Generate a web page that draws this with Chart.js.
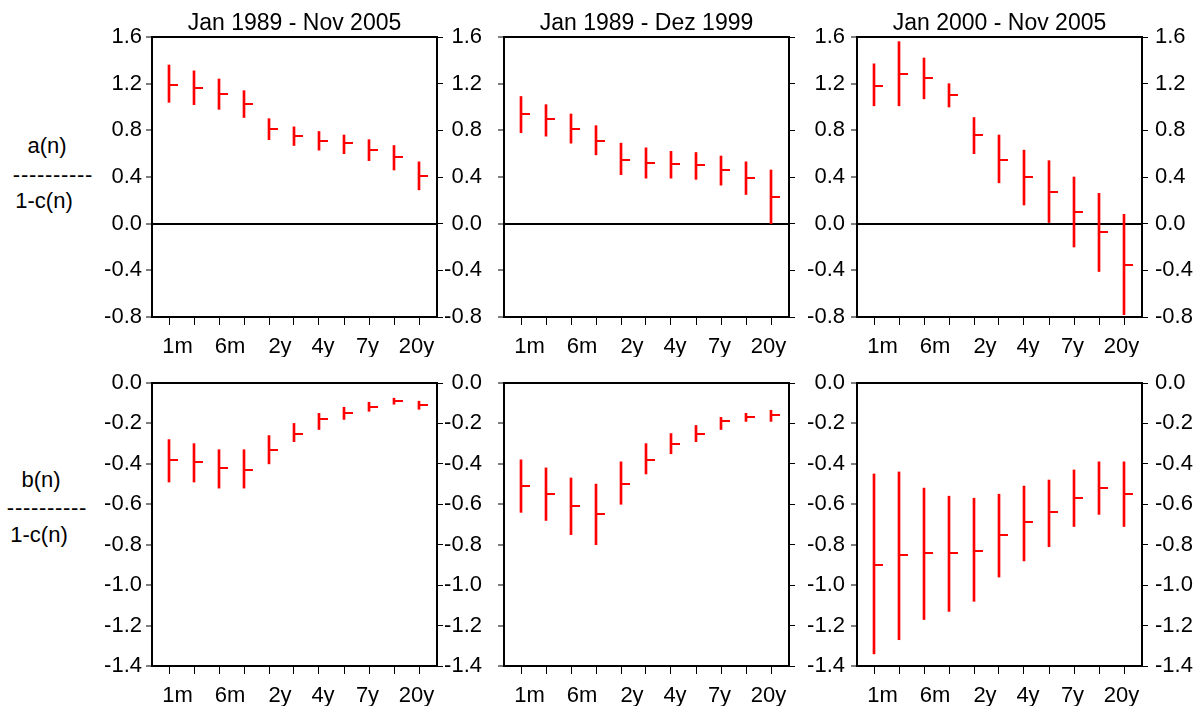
<!DOCTYPE html>
<html lang="en">
<head>
    <meta charset="UTF-8" />
    <title>a(n), b(n) over 1-c(n)</title>
    <script src="https://cdn.jsdelivr.net/npm/chart.js"></script>
    <style>
        body { margin: 0; background: #fff; }
        #page { position: relative; width: 1203px; height: 706px; overflow: hidden;
                font-family: "Liberation Sans", Arial, sans-serif; color: #000; }
        #page canvas { position: absolute; }
        .lbl { position: absolute; font-size: 22px; line-height: 22px; text-align: center; white-space: nowrap; }
        .dash { letter-spacing: 0.7px; }
    </style>
</head>
<body>
    <div id="page">
        <div class="lbl" style="left:17px;top:135px;width:60px">a(n)</div>
        <div class="lbl dash" style="left:3px;top:164px;width:100px">----------</div>
        <div class="lbl" style="left:9px;top:190px;width:70px">1-c(n)</div>

        <div class="lbl" style="left:11px;top:469px;width:60px">b(n)</div>
        <div class="lbl dash" style="left:-3px;top:497px;width:100px">----------</div>
        <div class="lbl" style="left:4px;top:524px;width:70px">1-c(n)</div>
    </div>

    <script>
        const maturities = ['1m', '3m', '6m', '1y', '2y', '3y', '4y', '5y', '7y', '10y', '20y'];
        const titles = ['Jan 1989 - Nov 2005', 'Jan 1989 - Dez 1999', 'Jan 2000 - Nov 2005'];

        // a(n) / (1-c(n)) : estimate and band
        const aFullMid  = [1.19, 1.16, 1.11, 1.03, 0.81, 0.75, 0.71, 0.69, 0.63, 0.57, 0.41];
        const aFullLow  = [1.04, 1.02, 0.98, 0.91, 0.72, 0.67, 0.63, 0.60, 0.54, 0.46, 0.29];
        const aFullHigh = [1.36, 1.31, 1.24, 1.14, 0.90, 0.83, 0.79, 0.76, 0.72, 0.67, 0.53];

        const aSub1Mid  = [0.94, 0.90, 0.81, 0.71, 0.55, 0.52, 0.51, 0.50, 0.46, 0.39, 0.23];
        const aSub1Low  = [0.78, 0.75, 0.69, 0.59, 0.42, 0.39, 0.39, 0.38, 0.33, 0.25, 0.00];
        const aSub1High = [1.09, 1.02, 0.94, 0.84, 0.69, 0.65, 0.62, 0.61, 0.58, 0.53, 0.46];

        const aSub2Mid  = [1.18, 1.28, 1.25, 1.10, 0.76, 0.55, 0.40, 0.27, 0.10, -0.07, -0.35];
        const aSub2Low  = [1.01, 1.01, 1.07, 1.00, 0.60, 0.35, 0.16, 0.01, -0.20, -0.41, -0.78];
        const aSub2High = [1.37, 1.56, 1.42, 1.20, 0.91, 0.76, 0.63, 0.54, 0.40, 0.26, 0.08];

        // b(n) / (1-c(n))
        const bFullMid  = [-0.38, -0.39, -0.42, -0.43, -0.33, -0.25, -0.18, -0.15, -0.12, -0.09, -0.11];
        const bFullLow  = [-0.49, -0.49, -0.52, -0.52, -0.40, -0.29, -0.23, -0.18, -0.14, -0.105, -0.13];
        const bFullHigh = [-0.28, -0.30, -0.33, -0.33, -0.26, -0.20, -0.15, -0.12, -0.095, -0.075, -0.09];

        const bSub1Mid  = [-0.51, -0.55, -0.61, -0.65, -0.50, -0.38, -0.30, -0.25, -0.19, -0.17, -0.16];
        const bSub1Low  = [-0.64, -0.68, -0.75, -0.80, -0.60, -0.45, -0.35, -0.29, -0.23, -0.19, -0.19];
        const bSub1High = [-0.38, -0.42, -0.47, -0.50, -0.39, -0.30, -0.25, -0.21, -0.17, -0.15, -0.135];

        const bSub2Mid  = [-0.90, -0.85, -0.84, -0.84, -0.83, -0.75, -0.69, -0.64, -0.57, -0.52, -0.55];
        const bSub2Low  = [-1.34, -1.27, -1.17, -1.13, -1.08, -0.96, -0.88, -0.81, -0.71, -0.65, -0.71];
        const bSub2High = [-0.45, -0.44, -0.52, -0.56, -0.57, -0.55, -0.51, -0.48, -0.43, -0.39, -0.39];

        const aRange = { min: -0.8, max: 1.6, step: 0.4 };
        const bRange = { min: -1.4, max: 0.0, step: 0.2 };

        // every other maturity is labelled; labels sit a little off their ticks, as in the source
        const shownLabels = ['1m', '6m', '2y', '4y', '7y', '20y'];
        const shownLabelAt = [0.34, 2.44, 4.44, 6.16, 7.94, 9.9];

        // layout of the plot frames
        const colLeft = [152, 504, 857];
        const plotW = 285;
        const rowTop = [37, 383];
        const rowBottom = [317, 666];
        const yLabelPad = [4, 16, 6];
        const sideW = 70, bottomH = 40, tickH = 8;
        const xMin = -0.68, xMax = 10.72;
        const FONT = "'Liberation Sans', Arial, sans-serif";

        Chart.defaults.font.family = FONT;
        Chart.defaults.font.size = 22;
        Chart.defaults.color = '#000';

        // small tick to the right of each band, marks the point estimate
        function makeEstimateMark() {
            const c = document.createElement('canvas');
            c.width = 20; c.height = 2;
            const g = c.getContext('2d');
            g.fillStyle = '#ff0000';
            g.fillRect(10, 0, 9, 2);
            return c;
        }
        const estimateMark = makeEstimateMark();

        const framePlugin = {
            id: 'frame',
            afterDatasetsDraw(chart) {
                const { ctx, chartArea: a } = chart;
                ctx.save();
                ctx.strokeStyle = '#000';
                ctx.lineWidth = 2;
                ctx.strokeRect(a.left, a.top, a.right - a.left, a.bottom - a.top);
                ctx.restore();
            }
        };

        function fmt(v) {
            return (Math.abs(v) < 1e-9 ? 0 : v).toFixed(1);
        }

        function makePanel(row, col, low, mid, high) {
            const L = colLeft[col], T = rowTop[row], B = rowBottom[row];
            const topH = row === 0 ? 37 : 30;
            const range = row === 0 ? aRange : bRange;

            const cv = document.createElement('canvas');
            cv.width = plotW + 2 * sideW;
            cv.height = (B - T) + topH + bottomH;
            cv.style.left = (L - sideW) + 'px';
            cv.style.top = (T - topH) + 'px';
            document.getElementById('page').appendChild(cv);

            new Chart(cv, {
                type: 'bar',
                data: {
                    datasets: [{
                        type: 'bar',
                        data: maturities.map((m, i) => ({ x: i, y: [low[i], high[i]] })),
                        backgroundColor: '#ff0000',
                        borderWidth: 0,
                        barThickness: 2
                    }, {
                        type: 'scatter',
                        data: maturities.map((m, i) => ({ x: i, y: mid[i] })),
                        pointStyle: estimateMark,
                        pointRadius: 3,
                        showLine: false
                    }]
                },
                options: {
                    responsive: false,
                    animation: false,
                    layout: { padding: { top: row === 0 ? 0 : topH } },
                    plugins: {
                        legend: { display: false },
                        tooltip: { enabled: false },
                        title: {
                            display: row === 0,
                            text: titles[col],
                            color: '#000',
                            font: { size: 23, weight: 'normal', lineHeight: 1 },
                            padding: { top: 12, bottom: 2 }
                        }
                    },
                    scales: {
                        // tick marks, one per maturity
                        x: {
                            type: 'linear',
                            weight: 0,
                            offset: false,
                            min: xMin, max: xMax,
                            afterBuildTicks: s => { s.ticks = maturities.map((m, i) => ({ value: i })); },
                            afterFit: s => { s.height = tickH; },
                            border: { display: false },
                            grid: { offset: false, drawOnChartArea: false, tickLength: tickH, tickColor: '#000', tickWidth: 1 },
                            ticks: { display: false }
                        },
                        // the maturity labels
                        xl: {
                            type: 'linear',
                            axis: 'x',
                            position: 'bottom',
                            weight: 1,
                            offset: false,
                            min: xMin, max: xMax,
                            afterBuildTicks: s => { s.ticks = shownLabelAt.map(v => ({ value: v })); },
                            afterFit: s => { s.height = bottomH - tickH; },
                            border: { display: false },
                            grid: { display: false, drawTicks: false },
                            ticks: {
                                autoSkip: false, maxRotation: 0, minRotation: 0, padding: 9,
                                callback: (v, i) => shownLabels[i]
                            }
                        },
                        y: {
                            position: 'left',
                            min: range.min, max: range.max,
                            afterFit: s => { s.width = sideW; },
                            border: { display: false },
                            grid: {
                                color: c => (c.tick && Math.abs(c.tick.value) < 1e-9 && row === 0) ? '#000' : 'rgba(0,0,0,0)',
                                lineWidth: 2,
                                tickLength: 6, tickColor: '#000', tickWidth: 1
                            },
                            ticks: { stepSize: range.step, padding: yLabelPad[col], callback: fmt }
                        },
                        y2: {
                            position: 'right',
                            min: range.min, max: range.max,
                            afterFit: s => { s.width = sideW; },
                            border: { display: false },
                            grid: { drawOnChartArea: false, tickLength: 6, tickColor: '#000', tickWidth: 1 },
                            ticks: { display: col === 2, stepSize: range.step, padding: 7, callback: fmt }
                        }
                    }
                },
                plugins: [framePlugin]
            });
        }

        makePanel(0, 0, aFullLow, aFullMid, aFullHigh);
        makePanel(0, 1, aSub1Low, aSub1Mid, aSub1High);
        makePanel(0, 2, aSub2Low, aSub2Mid, aSub2High);
        makePanel(1, 0, bFullLow, bFullMid, bFullHigh);
        makePanel(1, 1, bSub1Low, bSub1Mid, bSub1High);
        makePanel(1, 2, bSub2Low, bSub2Mid, bSub2High);
    </script>
</body>
</html>
